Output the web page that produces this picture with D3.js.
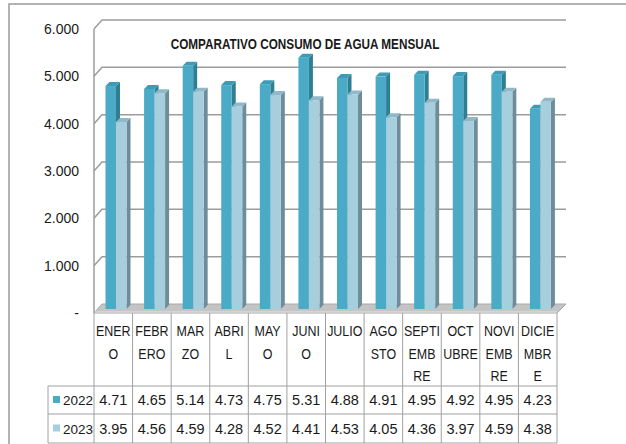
<!DOCTYPE html>
<html>
<head>
<meta charset="utf-8">
<script src="https://d3js.org/d3.v7.min.js"></script>
<style>
    body { margin: 0; background: #fff; }
    text { font-family: "Liberation Sans", Arial, sans-serif; fill: #1a1a1a; }
</style>
</head>
<body>
<svg width="626" height="444"></svg>
<script>
    // data
    const months = ['ENERO', 'FEBRERO', 'MARZO', 'ABRIL', 'MAYO', 'JUNIO', 'JULIO',
        'AGOSTO', 'SEPTIEMBRE', 'OCTUBRE', 'NOVIEMBRE', 'DICIEMBRE'];
    const monthLines = [['ENER', 'O'], ['FEBR', 'ERO'], ['MAR', 'ZO'], ['ABRI', 'L'], ['MAY', 'O'],
        ['JUNI', 'O'], ['JULIO'], ['AGO', 'STO'], ['SEPTI', 'EMB', 'RE'], ['OCT', 'UBRE'],
        ['NOVI', 'EMB', 'RE'], ['DICIE', 'MBR', 'E']];
    const series = ['2022', '2023'];
    const v2022 = [4.71, 4.65, 5.14, 4.73, 4.75, 5.31, 4.88, 4.91, 4.95, 4.92, 4.95, 4.23];
    const v2023 = [3.95, 4.56, 4.59, 4.28, 4.52, 4.41, 4.53, 4.05, 4.36, 3.97, 4.59, 4.38];
    const yTicks = [0, 1, 2, 3, 4, 5, 6];
    const yTickLabels = ['-', '1.000', '2.000', '3.000', '4.000', '5.000', '6.000'];
    const title = 'COMPARATIVO CONSUMO DE AGUA MENSUAL';

    const colors = {
        '2022': { front: '#4babc6', side: '#2f7f94', top: '#3d9bb5' },
        '2023': { front: '#a6cedd', side: '#6f8c9a', top: '#8fb9c9' }
    };
    const values = { '2022': v2022, '2023': v2023 };

    const svg = d3.select('svg');

    // no narrow font installed, so squeeze text horizontally
    function narrowText(sel, px, py, k) {
        return sel.attr('x', 0).attr('y', 0)
            .attr('transform', (d, i) => `translate(${px(d, i)},${py(d, i)}) scale(${k},1)`);
    }

    // outer chart frame (runs off the picture on right and bottom)
    svg.append('rect')
        .attr('x', 9).attr('y', 4).attr('width', 700).attr('height', 500)
        .attr('fill', 'none').attr('stroke', '#9a9a9a').attr('stroke-width', 1.5);

    const x = d3.scaleBand().domain(months).range([94, 557]);
    const sub = d3.scaleBand().domain(series).range([11.5, 32.5]);
    const y = d3.scaleLinear().domain([0, 6]).range([313, 29]);      // front edge
    const yb = d3.scaleLinear().domain([0, 6]).range([309, 25]);     // bars
    const wall = { dx: 8, dy: -9 };
    const dep = 4;
    const right = x.range()[1];

    // floor
    const floorY = y(0);
    svg.append('path')
        .attr('d', `M94,${floorY} L${right},${floorY} L${right + wall.dx + 1},${floorY + wall.dy} L${94 + wall.dx},${floorY + wall.dy} Z`)
        .attr('fill', '#c4c4c4').attr('stroke', '#a8a8a8').attr('stroke-width', 1);
    svg.append('line')
        .attr('x1', 94).attr('x2', right).attr('y1', floorY - 1).attr('y2', floorY - 1)
        .attr('stroke', '#e6e6e6').attr('stroke-width', 1);

    // gridlines on the back wall
    svg.append('g').selectAll('path')
        .data(yTicks.filter(d => d > 0))
        .join('path')
        .attr('d', d => `M94,${y(d)} L${94 + wall.dx},${y(d) + wall.dy} L${right + wall.dx + 1},${y(d) + wall.dy}`)
        .attr('fill', 'none').attr('stroke', '#9c9c9c').attr('stroke-width', 1.5);

    // left wall edge
    svg.append('line')
        .attr('x1', 94).attr('x2', 94).attr('y1', y(6)).attr('y2', y(0))
        .attr('stroke', '#9c9c9c').attr('stroke-width', 1.5);

    // y labels
    svg.append('g').selectAll('text')
        .data(yTicks)
        .join('text')
        .attr('x', 79).attr('y', d => y(d) + 5)
        .attr('text-anchor', 'end')
        .style('font-size', '14px')
        .text((d, i) => yTickLabels[i]);

    // bars
    const bars = [];
    months.forEach((m, i) => series.forEach(s => bars.push({ m: m, s: s, v: values[s][i] })));
    const bw = sub.bandwidth();
    const base = yb(0);
    const gBars = svg.append('g');
    bars.forEach(d => {
        const x0 = x(d.m) + sub(d.s);
        const t = yb(d.v);
        const c = colors[d.s];
        gBars.append('path')
            .attr('d', `M${x0 + bw},${t} L${x0 + bw + dep},${t - dep} L${x0 + bw + dep},${base - dep} L${x0 + bw},${base} Z`)
            .attr('fill', c.side);
        gBars.append('path')
            .attr('d', `M${x0},${t} L${x0 + dep},${t - dep} L${x0 + bw + dep},${t - dep} L${x0 + bw},${t} Z`)
            .attr('fill', c.top);
        gBars.append('rect')
            .attr('x', x0).attr('y', t).attr('width', bw).attr('height', base - t)
            .attr('fill', c.front);
    });

    // title
    narrowText(svg.append('text').datum(title), () => 305, () => 49, 0.84)
        .attr('text-anchor', 'middle')
        .style('font-size', '14px').style('font-weight', 'bold')
        .text(title);

    // data table
    const tbl = svg.append('g');
    const rowTop = [386, 414];
    const tblBottom = 443;
    const line = (x1, y1, x2, y2) => tbl.append('line')
        .attr('x1', x1).attr('y1', y1).attr('x2', x2).attr('y2', y2)
        .attr('stroke', '#a0a0a0').attr('stroke-width', 1);

    months.forEach(m => line(x(m), y(0), x(m), tblBottom));
    line(right, y(0), right, tblBottom);
    line(48, rowTop[0], 48, tblBottom);
    rowTop.forEach(r => line(48, r, right, r));
    line(48, tblBottom, right, tblBottom);

    // month headers
    months.forEach((m, i) => {
        narrowText(tbl.append('g').selectAll('text')
            .data(monthLines[i])
            .join('text'),
            () => x(m) + x.bandwidth() / 2, (d, j) => 336 + j * 22.5, 0.86)
            .attr('text-anchor', 'middle')
            .style('font-size', '14.5px')
            .text(d => d);
    });

    // rows
    series.forEach((s, r) => {
        const cy = (rowTop[r] + (r === 0 ? rowTop[1] : tblBottom)) / 2;
        tbl.append('rect')
            .attr('x', 53).attr('y', cy - 4).attr('width', 7).attr('height', 7)
            .attr('fill', colors[s].front);
        tbl.append('text')
            .attr('x', 63).attr('y', cy + 5)
            .style('font-size', '13.5px')
            .text(s);
        tbl.append('g').selectAll('text')
            .data(values[s])
            .join('text')
            .attr('x', (d, i) => x(months[i]) + x.bandwidth() / 2)
            .attr('y', cy + 5)
            .attr('text-anchor', 'middle')
            .style('font-size', '14.5px')
            .text(d => d.toFixed(2));
    });
</script>
</body>
</html>
